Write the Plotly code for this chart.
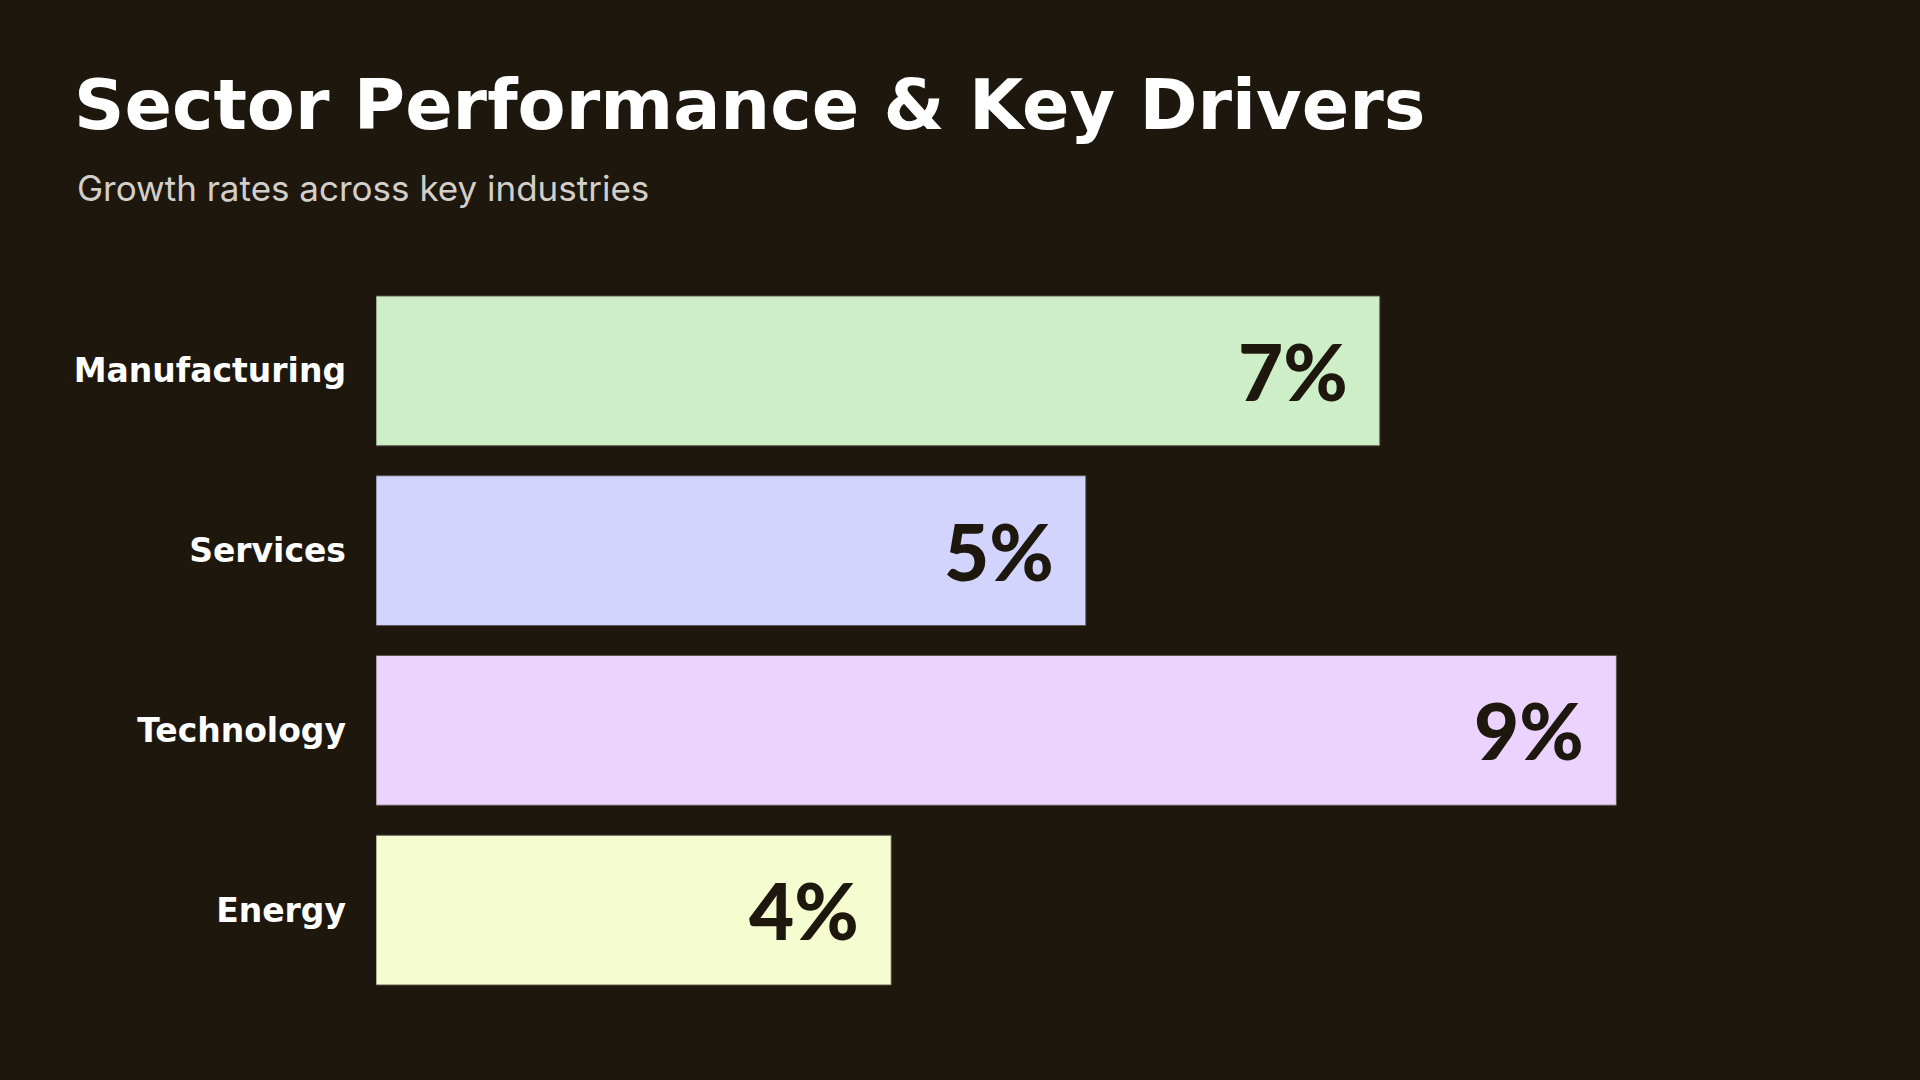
import plotly.graph_objects as go

sectors = ["Manufacturing", "Services", "Technology", "Energy"]
growth = [7.17, 5.07, 8.86, 3.68]
bar_colors = ["#cdeec6", "#d2d4fe", "#ecd3fd", "#f5fccf"]
value_labels = ["7%", "5%", "9%", "4%"]

BG = "#1d170e"
DARK = "#1d170e"

fig = go.Figure()
fig.add_trace(go.Bar(
    x=growth,
    y=sectors,
    orientation="h",
    marker=dict(color=bar_colors, line=dict(color="rgba(90,85,75,0.9)", width=1)),
    hoverinfo="skip",
    showlegend=False,
))

for s, v, lab in zip(sectors, growth, value_labels):
    fig.add_annotation(
        x=v, y=s, xref="x", yref="y",
        text=lab, showarrow=False,
        xanchor="right", yanchor="middle", xshift=-30,
        font=dict(family="Lato", size=78, color=DARK, weight=900),
    )

fig.update_layout(
    width=1920, height=1080,
    paper_bgcolor=BG, plot_bgcolor=BG,
    margin=dict(l=376, r=144, t=281, b=80),
    bargap=0.167,
    title=dict(
        text="Sector Performance & Key Drivers",
        xref="container", yref="container",
        x=74 / 1920, xanchor="left",
        y=1 - 104 / 1080, yanchor="middle",
        font=dict(family="DejaVu Sans", size=70, color="#ffffff", weight=700),
    ),
    xaxis=dict(range=[0, 10], visible=False, fixedrange=True),
    yaxis=dict(
        autorange="reversed",
        showgrid=False, zeroline=False, showline=False,
        ticks="", ticklabelstandoff=29,
        tickfont=dict(family="DejaVu Sans", size=33, color="#ffffff", weight=700),
        fixedrange=True,
    ),
)

fig.add_annotation(
    text="Growth rates across key industries",
    xref="paper", yref="paper",
    x=(75 - 376) / 1400, y=(1000 - 188) / 719,
    xanchor="left", yanchor="middle", showarrow=False,
    font=dict(family="Inter", size=35, color="#d3cfc8"),
)

fig.write_html(
    "out.html",
    config={"displayModeBar": False},
    post_script="document.body.style.margin='0';",
)
